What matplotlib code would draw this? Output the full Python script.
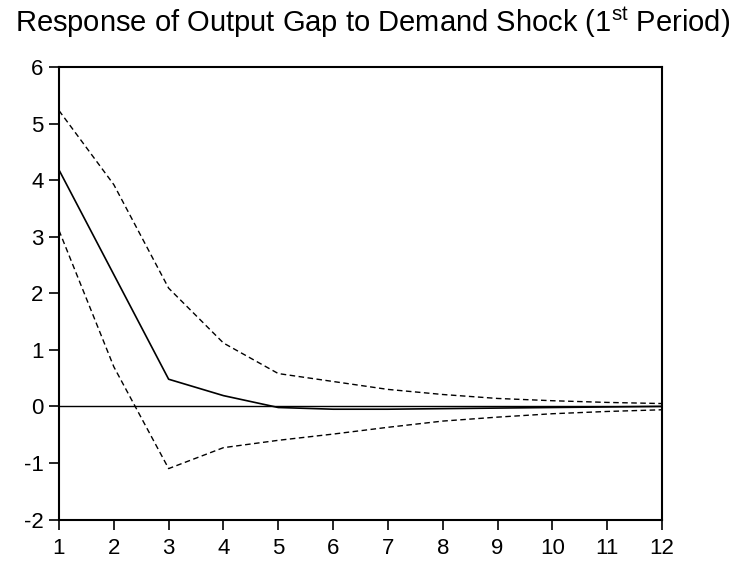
import numpy as np
import matplotlib.pyplot as plt

plt.rcParams['font.family'] = ['Liberation Sans', 'DejaVu Sans']
plt.rcParams['mathtext.fontset'] = 'custom'
plt.rcParams['mathtext.rm'] = 'Liberation Sans'
plt.rcParams['axes.unicode_minus'] = False

# Périodes et réponses impulsionnelles
periods = list(range(1, 13))
response = [4.18, 2.33, 0.48, 0.19, -0.02, -0.05, -0.05, -0.04, -0.03, -0.02, -0.01, 0.0]
upper = [5.23, 3.92, 2.09, 1.12, 0.58, 0.44, 0.30, 0.21, 0.14, 0.10, 0.07, 0.05]
lower = [3.11, 0.70, -1.10, -0.73, -0.60, -0.49, -0.37, -0.26, -0.19, -0.13, -0.09, -0.06]

fig = plt.figure(figsize=(7.46, 5.64), dpi=100)
ax = fig.add_axes([59 / 746, 1 - 519.5 / 564, 603 / 746, 452.5 / 564])

ax.axhline(0, color='black', lw=1.0)
ax.plot(periods, response, color='black', lw=1.2)
ax.plot(periods, upper, color='black', lw=1.0, dashes=(4, 2.5))
ax.plot(periods, lower, color='black', lw=1.0, dashes=(4, 2.5))

ax.set_xlim(1, 12)
ax.set_ylim(-2, 6)
ax.set_xticks(periods)
ax.set_yticks(range(-2, 7))
ax.tick_params(direction='out', length=7, width=1.2, labelsize=16)
ax.tick_params(axis='x', pad=6)
ax.tick_params(axis='y', pad=4)
for s in ax.spines.values():
    s.set_linewidth(1.5)

fig.text(0.5, 1 - 32 / 564, r'Response of Output Gap to Demand Shock (1$^{\rm st}$ Period)',
         ha='center', va='baseline', fontsize=21)

fig.savefig('out.png', dpi=100)
